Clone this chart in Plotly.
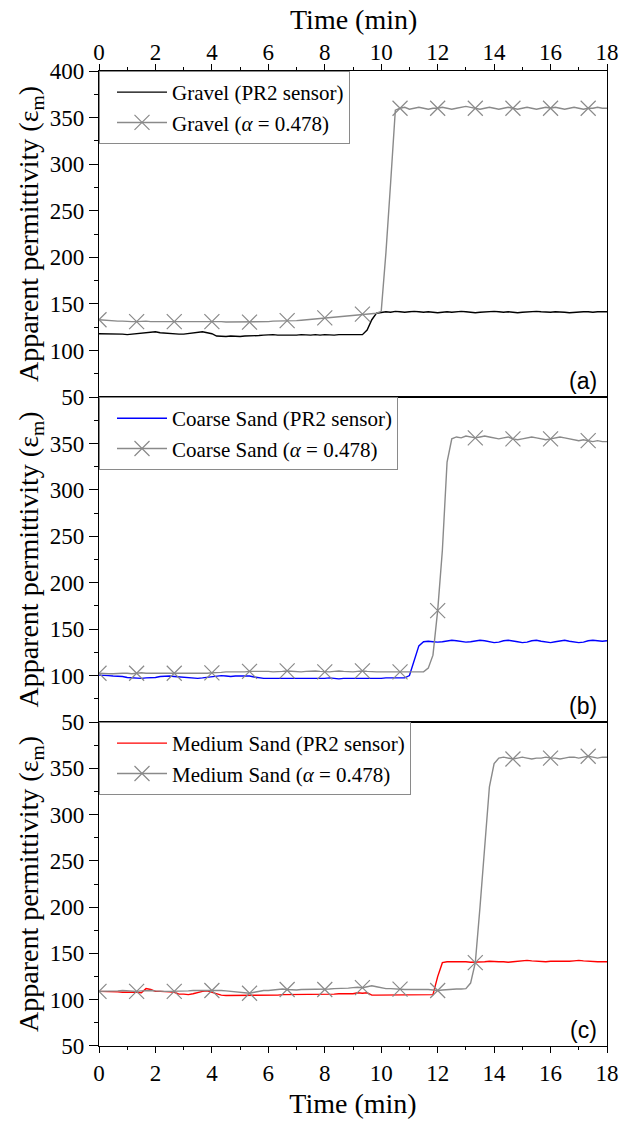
import plotly.graph_objects as go

# Sampling grid: one reading every 10 s (1/6 min), 0..18 min
time_min = [round(i / 6, 4) for i in range(109)]

# Panel (a) Gravel
gravel_pr2 = [
    118, 118, 117.5, 118, 118, 117.5, 117, 117.5, 118, 118, 118.5, 119,
    120, 119, 118.5, 118, 118, 117.5, 117.5, 118, 118.5, 119, 120, 119,
    118, 115.5, 115, 115, 115.5, 115, 115, 115.5, 115.5, 116, 116, 116.5,
    117, 117, 116.5, 116.5, 116, 116.5, 116.5, 117, 116.5, 116.5, 117, 116.5,
    117, 116.5, 116.5, 117, 117, 116.5, 117, 117, 117, 122, 133, 140,
    141, 141.5, 141, 142, 141.5, 141, 141.5, 142, 141.5, 141, 141.5, 141,
    140.5, 141, 141.5, 141, 141.5, 142, 141.5, 141, 140.5, 141, 141.5, 141.5,
    142, 141.5, 141, 141.5, 141, 140.5, 141, 141.5, 141.5, 142, 141.5, 141,
    141, 141.5, 141.5, 141, 140.5, 141, 141.5, 141.5, 141.5, 141, 141.5, 141.5,
    141.5,
]
gravel_alpha = [
    133, 132.5, 132, 132, 131.5, 131.5, 131, 131, 131, 131.5, 131.5, 131,
    131, 131.5, 131.5, 131, 131, 131.5, 131.5, 131, 131, 131, 131, 131,
    131, 131, 131, 130.5, 130.5, 130.5, 130.5, 130.5, 130.5, 131, 131, 131,
    131, 131.5, 131.5, 131.5, 132, 132, 132, 132.5, 133, 133.5, 134, 134.5,
    135, 135.5, 136, 136.5, 137, 137.5, 138, 138.5, 139, 139.5, 140, 140,
    142, 205, 280, 358, 360, 361, 359, 360, 361, 360, 359, 360,
    360, 361, 360, 359, 360, 361, 362, 361, 360, 359, 360, 361,
    360, 359, 360, 361, 360, 359, 360, 361, 360, 359, 360, 361,
    360, 361, 360, 359, 360, 361, 360, 359, 360, 360, 361, 360,
    360,
]

# Panel (b) Coarse sand
coarse_pr2 = [
    100.5, 100.5, 100, 99.5, 99.5, 99, 98, 97.5, 97, 97, 97.5, 97.5,
    98, 99, 99.5, 99.5, 99, 98.5, 98, 97.5, 97, 97, 97.5, 98,
    99, 99.5, 100, 99.5, 99, 99.5, 99.5, 100, 99.5, 98.5, 97.5, 97,
    97, 97, 96.5, 97, 97, 97, 96.5, 97, 97, 96.5, 97, 97,
    97, 97.5, 97, 96.5, 97, 97, 96.5, 96.5, 97, 97, 96.5, 97,
    97, 97.5, 97.5, 97, 97, 97.5, 100, 115, 132, 136.5, 137, 136.5,
    136, 136.5, 137.5, 138, 137.5, 136.5, 136, 136.5, 137.5, 138, 137.5, 136.5,
    135.5, 136, 137.5, 138, 137.5, 136.5, 135.5, 136, 137.5, 138, 137, 136,
    135.5, 136.5, 137.5, 138, 137, 136, 135.5, 136, 137.5, 138, 137.5, 137,
    137.5,
]
coarse_alpha = [
    102.5, 102, 102, 102, 102.5, 102.5, 102.5, 102, 102.5, 103, 102.5, 102.5,
    102.5, 102, 102, 102, 102.5, 102.5, 102.5, 102.5, 102, 102, 102.5, 102.5,
    103, 103, 103.5, 104, 104, 104, 103.5, 104, 104.5, 104.5, 105, 105,
    104.5, 104, 104, 104.5, 105, 104.5, 104, 104, 104.5, 105, 105, 104.5,
    104, 104, 104.5, 105, 104.5, 104, 104, 104.5, 105, 104.5, 104, 104,
    104, 104, 104, 104, 104, 104, 104, 104, 104, 104, 108, 122,
    170, 235, 330, 355, 357, 356, 358, 357, 356, 357, 358, 357,
    356, 355, 356, 357, 355, 354, 355, 356, 357, 356, 355, 354,
    355, 356, 357, 356, 355, 354, 353, 354, 353, 352, 353, 352,
    352,
]

# Panel (c) Medium sand
medium_pr2 = [
    109, 109, 109, 108.5, 108.5, 108, 108, 108.5, 108, 107.5, 112, 111,
    109, 109, 109, 108.5, 108, 106, 106, 105.5, 106.5, 108, 109, 109.5,
    108, 106.5, 105, 104.5, 104.5, 104.5, 104.5, 104.5, 104.5, 104.5, 104.5, 104.5,
    105, 105, 105, 105.5, 105.5, 105.5, 105.5, 106, 106, 106, 106, 106,
    106, 106, 106, 106.5, 106.5, 106, 106.5, 107.5, 107, 107.5, 105, 105,
    105, 105, 105, 105, 105, 105, 105, 105, 105, 105, 105, 105.5,
    125, 140, 141, 141, 141.5, 141, 141, 140.5, 140.5, 141, 141, 141.5,
    141, 141, 141, 140.5, 141, 141.5, 142, 142.5, 142, 141.5, 141, 141,
    141.5, 141.5, 141, 141, 141.5, 142, 142.5, 142, 141.5, 141, 141, 141,
    141,
]
medium_alpha = [
    109, 109, 109, 109.5, 109.5, 110, 109.5, 109, 109, 109.5, 110, 110,
    109.5, 109, 109, 109, 109, 109, 109, 109.5, 110, 110, 110.5, 110.5,
    110, 110, 110, 109.5, 109, 108.5, 108, 107.5, 107, 108, 109, 110,
    110, 110.5, 111, 111.5, 111, 110.5, 110.5, 111, 111, 111, 111.5, 111,
    111, 111.5, 112, 112, 112, 112.5, 113, 113.5, 113, 114, 115, 114,
    113, 112, 112, 111.5, 111.5, 111, 111, 111, 111.5, 111.5, 111, 110.5,
    110, 110.5, 111, 111, 111.5, 111.5, 112, 118, 140, 200, 268, 330,
    355, 361, 362, 361, 360, 361, 362, 361, 360, 361, 361, 362,
    361, 361, 360, 361, 362, 362, 361, 362, 363, 362, 361, 362,
    362,
]

x_ticks = [0, 2, 4, 6, 8, 10, 12, 14, 16, 18]
y_ticks_top = [50, 100, 150, 200, 250, 300, 350, 400]
y_ticks_lower = [50, 100, 150, 200, 250, 300, 350]
panel_labels = ["(a)", "(b)", "(c)"]
sensor_names = ["Gravel (PR2 sensor)", "Coarse Sand (PR2 sensor)", "Medium Sand (PR2 sensor)"]
model_names = ["Gravel (<i>α</i> = 0.478)", "Coarse Sand (<i>α</i> = 0.478)", "Medium Sand (<i>α</i> = 0.478)"]
sensor_colors = ["#000000", "#0000ff", "#ff0000"]
GRAY = "#8a8a8a"
MARK_EVERY = 8

sensor_data = [gravel_pr2, coarse_pr2, medium_pr2]
model_data = [gravel_alpha, coarse_alpha, medium_alpha]
for arr in sensor_data + model_data:
    assert len(arr) == len(time_min), len(arr)

SERIF = "Liberation Serif"
domains = [[0.6656, 1.0], [0.3323, 0.6656], [0.0, 0.3323]]
legend_keys = ["legend", "legend2", "legend3"]

fig = go.Figure()
for k in range(3):
    xa = "x" if k == 0 else f"x{k+1}"
    ya = "y" if k == 0 else f"y{k+1}"
    lg = legend_keys[k]
    fig.add_trace(go.Scatter(
        x=time_min, y=sensor_data[k], xaxis=xa, yaxis=ya, mode="lines",
        line=dict(color=sensor_colors[k], width=1.4), name=sensor_names[k],
        legend=lg,
    ))
    fig.add_trace(go.Scatter(
        x=time_min, y=model_data[k], xaxis=xa, yaxis=ya, mode="lines",
        line=dict(color=GRAY, width=1.4), showlegend=False, legend=lg,
    ))
    fig.add_trace(go.Scatter(
        x=time_min[::MARK_EVERY], y=model_data[k][::MARK_EVERY], xaxis=xa, yaxis=ya,
        mode="markers", showlegend=False, legend=lg, cliponaxis=True,
        marker=dict(symbol="x-thin", size=15, line=dict(color=GRAY, width=1.2)),
    ))
    # legend entry for model line (line + marker)
    fig.add_trace(go.Scatter(
        x=[None], y=[None], xaxis=xa, yaxis=ya, mode="lines+markers",
        line=dict(color=GRAY, width=1.4), name=model_names[k], legend=lg,
        marker=dict(symbol="x-thin", size=15, line=dict(color=GRAY, width=1.2)),
    ))

axis_common = dict(
    showline=True, linecolor="black", linewidth=1.3, mirror=True,
    showgrid=False, zeroline=False, tickcolor="black", automargin=False,
    tickfont=dict(family=SERIF, size=23, color="black"),
)

layout = dict(
    template="none",
    width=619, height=1122,
    margin=dict(l=99, r=12, t=71, b=76, autoexpand=False),
    paper_bgcolor="white", plot_bgcolor="white",
    font=dict(family=SERIF, color="black"),
    xaxis=dict(
        **axis_common, domain=[0, 1], anchor="y", side="top", range=[0, 18],
        tickmode="array", tickvals=x_ticks, ticks="outside", ticklen=6, tickwidth=1.3,
        ticklabelstandoff=-5,
        minor=dict(tickmode="linear", tick0=0, dtick=1, ticks="outside", ticklen=3, tickwidth=1.3, tickcolor="black"),
    ),
    xaxis2=dict(
        **axis_common, domain=[0, 1], anchor="y2", matches="x", range=[0, 18],
        showticklabels=False, ticks="",
    ),
    xaxis3=dict(
        **axis_common, domain=[0, 1], anchor="y3", side="bottom", matches="x", range=[0, 18],
        tickmode="array", tickvals=x_ticks, ticks="outside", ticklen=6, tickwidth=1.3,
        minor=dict(tickmode="linear", tick0=0, dtick=1, ticks="outside", ticklen=3, tickwidth=1.3, tickcolor="black"),
        title=dict(text="Time (min)", font=dict(family=SERIF, size=28, color="black"), standoff=8),
    ),
)
for k in range(3):
    key = "yaxis" if k == 0 else f"yaxis{k+1}"
    xa = "x" if k == 0 else f"x{k+1}"
    layout[key] = dict(
        **axis_common, domain=domains[k], anchor=xa, range=[50, 400],
        tickmode="array", tickvals=(y_ticks_top if k == 0 else y_ticks_lower),
        ticks="outside", ticklen=9, tickwidth=1.3,
        minor=dict(tickmode="linear", tick0=0, dtick=25, ticks="outside", ticklen=4, tickwidth=1.3, tickcolor="black"),
        title=dict(text="Apparent permittivity (ε<sub>m</sub>)",
                   font=dict(family=SERIF, size=28, color="black"), standoff=2),
    )
    layout[legend_keys[k]] = dict(
        x=0, y=domains[k][1], xanchor="left", yanchor="top",
        bgcolor="white", bordercolor="#8a8a8a", borderwidth=1,
        font=dict(family=SERIF, size=21, color="black"),
        tracegroupgap=0, indentation=12, itemwidth=50,
    )

fig.update_layout(**layout)

# top axis title (Time) above the top tick labels
fig.add_annotation(
    text="Time (min)", xref="paper", yref="paper", x=0.5, y=1.0,
    xanchor="center", yanchor="middle", yshift=52, showarrow=False,
    font=dict(family=SERIF, size=28, color="black"),
)

for k in range(3):
    fig.add_annotation(
        text=panel_labels[k], xref="paper", yref="paper",
        x=0.985, y=domains[k][0], xanchor="right", yanchor="bottom", yshift=1,
        showarrow=False, font=dict(family="Liberation Sans", size=23, color="black"),
    )

fig.write_html(
    "out.html",
    config={"displayModeBar": False},
    post_script="document.body.style.margin='0';document.body.style.overflow='hidden';",
)
